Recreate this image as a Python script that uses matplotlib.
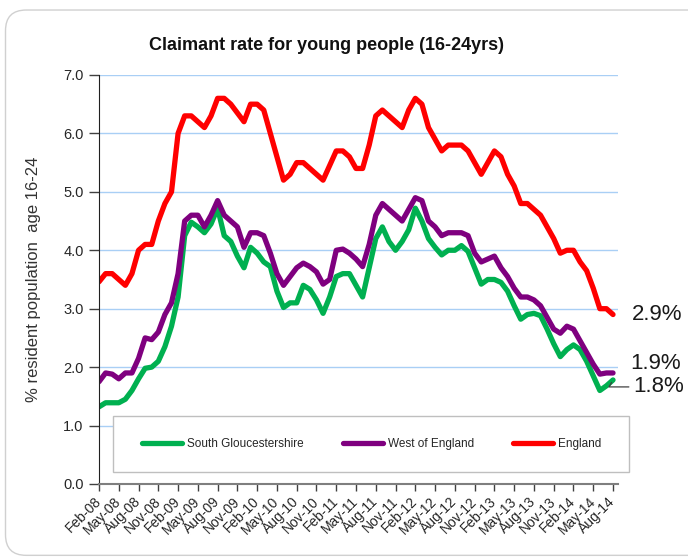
import numpy as np
import matplotlib
matplotlib.use('Agg')
import matplotlib.pyplot as plt
from matplotlib.patches import Rectangle, FancyBboxPatch

plt.rcParams['font.family'] = ['Liberation Sans', 'DejaVu Sans']

# Monthly claimant rate (%), Feb-08 .. Aug-14
south_glos = [1.32, 1.39, 1.39, 1.39, 1.45, 1.6, 1.8, 1.98, 2.0, 2.1,
              2.35, 2.7, 3.2, 4.25, 4.48, 4.4, 4.3, 4.45, 4.72, 4.25,
              4.15, 3.9, 3.7, 4.05, 3.95, 3.8, 3.72, 3.3, 3.02, 3.1,
              3.1, 3.4, 3.33, 3.15, 2.92, 3.2, 3.55, 3.6, 3.6, 3.4,
              3.2, 3.7, 4.2, 4.4, 4.15, 4.0, 4.15, 4.35, 4.72, 4.5,
              4.2, 4.05, 3.92, 4.0, 4.0, 4.08, 3.98, 3.7, 3.42, 3.5,
              3.5, 3.45, 3.3, 3.05, 2.82, 2.9, 2.92, 2.88, 2.65, 2.4,
              2.18, 2.3, 2.38, 2.3, 2.1, 1.85, 1.6, 1.68, 1.78]
west_of_england = [1.75, 1.9, 1.88, 1.8, 1.9, 1.9, 2.15, 2.5, 2.47, 2.6,
                   2.9, 3.1, 3.6, 4.5, 4.6, 4.6, 4.4, 4.6, 4.85, 4.6,
                   4.5, 4.4, 4.05, 4.3, 4.3, 4.25, 3.95, 3.6, 3.4, 3.55,
                   3.7, 3.78, 3.72, 3.63, 3.42, 3.5, 4.0, 4.02, 3.95, 3.85,
                   3.72, 4.1, 4.6, 4.8, 4.7, 4.6, 4.5, 4.7, 4.9, 4.85,
                   4.5, 4.4, 4.25, 4.3, 4.3, 4.3, 4.25, 3.95, 3.8, 3.85,
                   3.9, 3.7, 3.55, 3.35, 3.2, 3.2, 3.15, 3.05, 2.85, 2.65,
                   2.58, 2.7, 2.65, 2.45, 2.25, 2.05, 1.88, 1.9, 1.9]
england = [3.46, 3.6, 3.6, 3.5, 3.4, 3.6, 4.0, 4.1, 4.1, 4.5,
           4.8, 5.0, 6.0, 6.3, 6.3, 6.2, 6.1, 6.3, 6.6, 6.6,
           6.5, 6.35, 6.2, 6.5, 6.5, 6.4, 6.0, 5.6, 5.2, 5.3,
           5.5, 5.5, 5.4, 5.3, 5.2, 5.45, 5.7, 5.7, 5.6, 5.4,
           5.4, 5.8, 6.3, 6.4, 6.3, 6.2, 6.1, 6.4, 6.6, 6.5,
           6.1, 5.9, 5.7, 5.8, 5.8, 5.8, 5.7, 5.5, 5.3, 5.5,
           5.7, 5.6, 5.3, 5.1, 4.8, 4.8, 4.7, 4.6, 4.4, 4.2,
           3.95, 4.0, 4.0, 3.8, 3.65, 3.35, 3.0, 3.0, 2.9]

tick_labels = ['Feb-08', 'May-08', 'Aug-08', 'Nov-08', 'Feb-09', 'May-09', 'Aug-09',
               'Nov-09', 'Feb-10', 'May-10', 'Aug-10', 'Nov-10', 'Feb-11', 'May-11',
               'Aug-11', 'Nov-11', 'Feb-12', 'May-12', 'Aug-12', 'Nov-12', 'Feb-13',
               'May-13', 'Aug-13', 'Nov-13', 'Feb-14', 'May-14', 'Aug-14']

x = np.arange(len(england))

fig = plt.figure(figsize=(6.88, 5.57), dpi=100)
ax = fig.add_axes([0.1439, 0.1311, 0.7544, 0.7343])

lw = 3.8
ax.plot(x, south_glos, color='#00B050', lw=lw, solid_joinstyle='round',
        solid_capstyle='round', label='South Gloucestershire')
ax.plot(x, west_of_england, color='#7F007F', lw=lw, solid_joinstyle='round',
        solid_capstyle='round', label='West of England')
ax.plot(x, england, color='#FF0000', lw=lw, solid_joinstyle='round',
        solid_capstyle='round', label='England')

ax.set_xlim(0, 78.76)
ax.set_ylim(0, 7)
ax.set_yticks(np.arange(0, 8, 1))
ax.set_yticklabels([f'{v:.1f}' for v in range(8)], fontsize=10.5, color='#262626')
ax.set_xticks(np.arange(0, len(x), 3))
ax.set_xticklabels(tick_labels, rotation=45, ha='right', va='center',
                   rotation_mode='anchor', fontsize=10, color='#262626')
ax.tick_params(axis='y', length=7, width=1, color='#404040', pad=4)
ax.tick_params(axis='x', length=5, width=1, color='#404040', pad=6)
ax.grid(axis='y', color='#A9CFF5', lw=1)
ax.set_axisbelow(True)
for s in ['top', 'right']:
    ax.spines[s].set_visible(False)
ax.spines['left'].set_color('#202020')
ax.spines['bottom'].set_color('#7F7F7F')
ax.spines['bottom'].set_linewidth(1.5)

fig.text(0.475, 0.918, 'Claimant rate for young people (16-24yrs)', ha='center', va='center',
         fontsize=13, fontweight='bold', color='#111111')
fig.text(0.049, 0.499, '% resident population  age 16-24', rotation=90, ha='center',
         va='center', fontsize=12, color='#333333')

# end labels
ax.annotate('2.9%', xy=(78, england[-1]), xytext=(13.7, 0), textcoords='offset points',
            ha='left', va='center', fontsize=16, color='#1a1a1a', annotation_clip=False)
ax.annotate('1.9%', xy=(78, west_of_england[-1]), xytext=(12.2, 6.5), textcoords='offset points',
            ha='left', va='center', fontsize=16, color='#1a1a1a', annotation_clip=False)
ax.annotate('1.8%', xy=(78, south_glos[-1]), xytext=(14.4, -5), textcoords='offset points',
            ha='left', va='center', fontsize=16, color='#1a1a1a', annotation_clip=False,
            arrowprops=dict(arrowstyle='-', color='#404040', lw=0.9, shrinkA=1, shrinkB=2,
                            relpos=(0, 0.5), connectionstyle='angle,angleA=0,angleB=60,rad=0'))

# legend box
box = Rectangle((0.1642, 0.1526), 0.75, 0.1005, transform=fig.transFigure,
                facecolor='white', edgecolor='#BFBFBF', lw=1, zorder=2)
fig.add_artist(box)
handles, labels = ax.get_legend_handles_labels()
fig.legend(handles, labels, loc='center', bbox_to_anchor=(0.54, 0.203), ncol=3,
           frameon=False, fontsize=8.5, handlelength=3.4, handletextpad=0.4,
           columnspacing=3.3, labelcolor='#262626')

# outer rounded frame (right edge runs off the image)
frame = FancyBboxPatch((0.008, 0.003), 1.05, 0.979, boxstyle='round,pad=0,rounding_size=0.03',
                       transform=fig.transFigure, facecolor='none', edgecolor='#D0D0D0',
                       lw=1, mutation_aspect=688 / 557)
fig.add_artist(frame)

fig.savefig('out.png', dpi=100)
